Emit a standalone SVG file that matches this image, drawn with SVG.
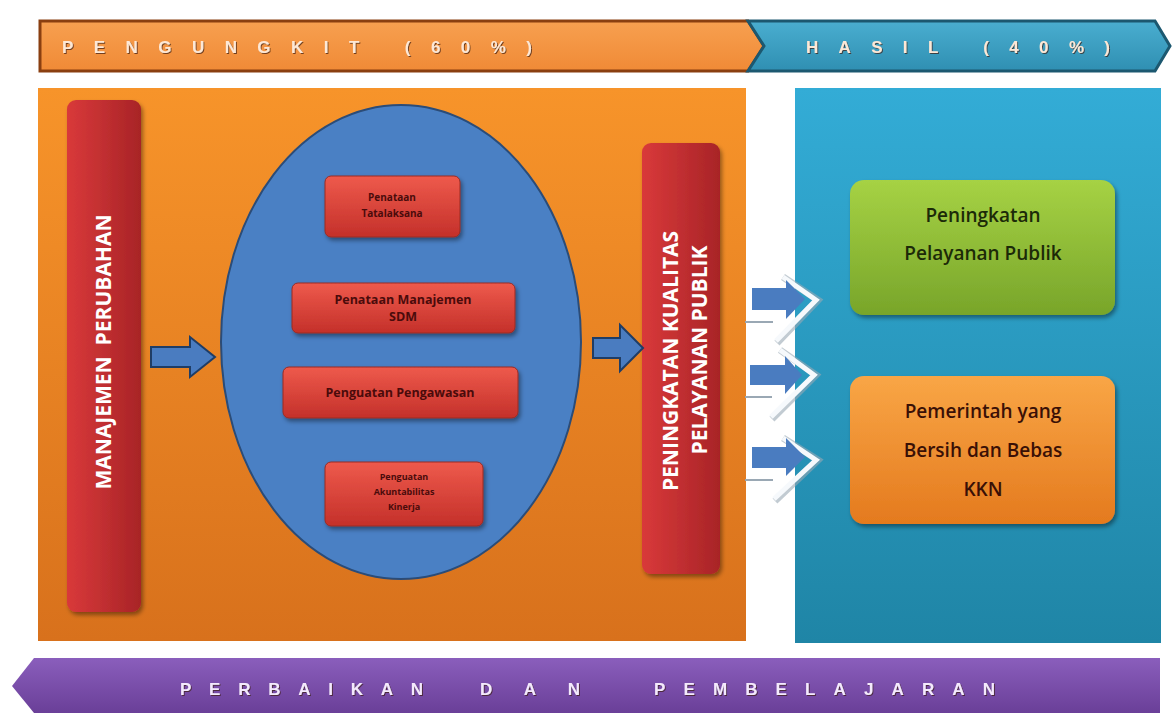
<svg xmlns="http://www.w3.org/2000/svg" width="1173" height="713" viewBox="0 0 1173 713">
<defs>
<linearGradient id="gOrangePanel" x1="0" y1="0" x2="0" y2="1"><stop offset="0" stop-color="#f7942a"/><stop offset="1" stop-color="#d8711c"/></linearGradient>
<linearGradient id="gBluePanel" x1="0" y1="0" x2="0" y2="1"><stop offset="0" stop-color="#33acd6"/><stop offset="1" stop-color="#1f85a6"/></linearGradient>
<linearGradient id="gRedBar" x1="0" y1="0" x2="1" y2="0"><stop offset="0" stop-color="#d9393a"/><stop offset="1" stop-color="#a82427"/></linearGradient>
<linearGradient id="gRedBox" x1="0" y1="0" x2="0" y2="1"><stop offset="0" stop-color="#ee5a4c"/><stop offset="1" stop-color="#c4302a"/></linearGradient>
<linearGradient id="gGreen" x1="0" y1="0" x2="0" y2="1"><stop offset="0" stop-color="#a6d244"/><stop offset="1" stop-color="#78a52a"/></linearGradient>
<linearGradient id="gOrangeBox" x1="0" y1="0" x2="0" y2="1"><stop offset="0" stop-color="#f9a646"/><stop offset="1" stop-color="#e47a1e"/></linearGradient>
<linearGradient id="gPurple" x1="0" y1="0" x2="0" y2="1"><stop offset="0" stop-color="#8a5ebc"/><stop offset="1" stop-color="#6a3f98"/></linearGradient>
<linearGradient id="gTopOrange" x1="0" y1="0" x2="0" y2="1"><stop offset="0" stop-color="#f7a050"/><stop offset="1" stop-color="#f08a36"/></linearGradient>
<linearGradient id="gTopBlue" x1="0" y1="0" x2="0" y2="1"><stop offset="0" stop-color="#4aaed0"/><stop offset="1" stop-color="#2f8fb2"/></linearGradient>
<filter id="shadow" x="-10%" y="-10%" width="130%" height="140%"><feDropShadow dx="2" dy="3" stdDeviation="2" flood-color="#000" flood-opacity="0.4"/></filter>
<filter id="tshadow"><feDropShadow dx="1" dy="1" stdDeviation="0.6" flood-color="#3a1a10" flood-opacity="0.7"/></filter>
</defs>
<style>
.banner{font-family:"Liberation Sans",Arial,sans-serif;font-weight:bold;font-size:17px;fill:#fde8d6}
.vbar{font-family:"Open Sans","Liberation Sans",sans-serif;font-weight:bold;font-size:21px;fill:#ffffff}
.small{font-family:"Open Sans","Liberation Sans",sans-serif;font-weight:bold;font-size:10px;fill:#4a0b0b;text-anchor:middle}
.med{font-family:"Open Sans","Liberation Sans",sans-serif;font-weight:bold;font-size:12.5px;fill:#4a0b0b;text-anchor:middle}
.big{font-family:"Open Sans","Liberation Sans",sans-serif;font-weight:600;font-size:19px;text-anchor:middle}
.redbox{fill:url(#gRedBox);stroke:#9a2a22;stroke-width:1}
.blockarrow{fill:#4a7cc0;stroke:#1f3d66;stroke-width:2}
.chev-edge{fill:none;stroke:#9aa8b4;stroke-opacity:0.6;stroke-width:7;stroke-linejoin:miter}
.chev{fill:none;stroke:#f6f9fc;stroke-width:5;stroke-linejoin:miter}
.tick{stroke:#9aa8b4;stroke-width:2}
.outarrow{fill:#4a7cc0}
</style>
<rect x="0" y="0" width="1173" height="713" fill="#ffffff"/>

<g id="top-banner">
<polygon points="40,21 748,21 764,46 748,71 40,71" fill="url(#gTopOrange)" stroke="#8a3f10" stroke-width="3"/>
<polygon points="748,21 1155,21 1170,46 1155,71 748,71 764,46" fill="url(#gTopBlue)" stroke="#1c5870" stroke-width="3"/>
<text class="banner" x="62" y="53" textLength="470" lengthAdjust="spacing" filter="url(#tshadow)">PENGUNGKIT (60%)</text>
<text class="banner" x="806" y="53" textLength="304" lengthAdjust="spacing" filter="url(#tshadow)">HASIL (40%)</text>
</g>

<g id="panel-pengungkit">
<rect x="38" y="88" width="708" height="553" fill="url(#gOrangePanel)"/>
</g>
<g id="panel-hasil">
<rect x="795" y="88" width="366" height="555" fill="url(#gBluePanel)"/>
</g>

<g id="manajemen-perubahan">
<rect x="67" y="100" width="74" height="512" rx="9" fill="url(#gRedBar)" filter="url(#shadow)"/>
<text class="vbar" transform="translate(111,352) rotate(-90)" text-anchor="middle" xml:space="preserve">MANAJEMEN  PERUBAHAN</text>
</g>

<g id="ellipse-group">
<ellipse cx="401" cy="342" rx="180" ry="237" fill="#4a80c4" stroke="#2b4c78" stroke-width="2"/>
</g>

<g id="penataan-tatalaksana">
<rect class="redbox" x="325" y="176" width="135" height="61" rx="6" filter="url(#shadow)"/>
<text class="small" x="392" y="201">Penataan</text>
<text class="small" x="392" y="217">Tatalaksana</text>
</g>
<g id="penataan-sdm">
<rect class="redbox" x="292" y="283" width="223" height="50" rx="6" filter="url(#shadow)"/>
<text class="med" x="403" y="304">Penataan Manajemen</text>
<text class="med" x="403" y="321">SDM</text>
</g>
<g id="penguatan-pengawasan">
<rect class="redbox" x="283" y="367" width="235" height="51" rx="6" filter="url(#shadow)"/>
<text class="med" x="400" y="397">Penguatan Pengawasan</text>
</g>
<g id="penguatan-akuntabilitas">
<rect class="redbox" x="325" y="462" width="158" height="64" rx="6" filter="url(#shadow)"/>
<text class="small" x="404" y="480" style="font-size:9px">Penguatan</text>
<text class="small" x="404" y="495" style="font-size:9px">Akuntabilitas</text>
<text class="small" x="404" y="510" style="font-size:9px">Kinerja</text>
</g>

<g id="peningkatan-kualitas">
<rect x="642" y="143" width="78" height="431" rx="9" fill="url(#gRedBar)" filter="url(#shadow)"/>
<text class="vbar" transform="translate(678,361) rotate(-90)" text-anchor="middle">PENINGKATAN KUALITAS</text>
<text class="vbar" transform="translate(707,350) rotate(-90)" text-anchor="middle">PELAYANAN PUBLIK</text>
</g>

<g id="peningkatan-pelayanan">
<rect x="850" y="180" width="265" height="135" rx="14" fill="url(#gGreen)" filter="url(#shadow)"/>
<text class="big" x="983" y="222" fill="#1c2a08">Peningkatan</text>
<text class="big" x="983" y="260" fill="#1c2a08">Pelayanan Publik</text>
</g>
<g id="pemerintah-bersih">
<rect x="850" y="376" width="265" height="148" rx="14" fill="url(#gOrangeBox)" filter="url(#shadow)"/>
<text class="big" x="983" y="418" fill="#3a1006">Pemerintah yang</text>
<text class="big" x="983" y="457" fill="#3a1006">Bersih dan Bebas</text>
<text class="big" x="983" y="496" fill="#3a1006">KKN</text>
</g>

<g id="bottom-banner">
<polygon points="34,658 1160,658 1160,713 34,713 12,686" fill="url(#gPurple)"/>
<text class="banner" x="180" y="695" textLength="243" lengthAdjust="spacing" style="fill:#f4eafc" filter="url(#tshadow)">PERBAIKAN</text>
<text class="banner" x="480" y="695" textLength="100" lengthAdjust="spacing" style="fill:#f4eafc" filter="url(#tshadow)">DAN</text>
<text class="banner" x="654" y="695" textLength="341" lengthAdjust="spacing" style="fill:#f4eafc" filter="url(#tshadow)">PEMBELAJARAN</text>
</g>

<g id="connectors">
<polygon class="blockarrow" points="151,347 190,347 190,337 215,357 190,377 190,367 151,367"/>
<polygon class="blockarrow" points="593,338 620,338 620,325 643,348 620,371 620,358 593,358"/>
<g id="out-arrows">
<g>
<polyline class="chev-edge" points="783,277 818,300 777,343"/>
<polyline class="chev" points="783,277 816,300 776,341"/>
<line class="tick" x1="745" y1="322" x2="773" y2="322"/>
<polygon class="outarrow" points="752,288 786,288 786,280 805,299 786,319 786,310 752,310"/>
</g>
<g>
<polyline class="chev-edge" points="780,350 816,375 772,419"/>
<polyline class="chev" points="780,350 814,375 771,417"/>
<line class="tick" x1="745" y1="397" x2="772" y2="397"/>
<polygon class="outarrow" points="750,365 785,365 785,356 802,375 785,394 785,385 750,385"/>
</g>
<g>
<polyline class="chev-edge" points="783,438 818,460 775,501"/>
<polyline class="chev" points="783,438 816,460 774,499"/>
<line class="tick" x1="745" y1="480" x2="773" y2="480"/>
<polygon class="outarrow" points="752,447 786,447 786,438 805,457 786,476 786,468 752,468"/>
</g>
</g>
</g>
</svg>
